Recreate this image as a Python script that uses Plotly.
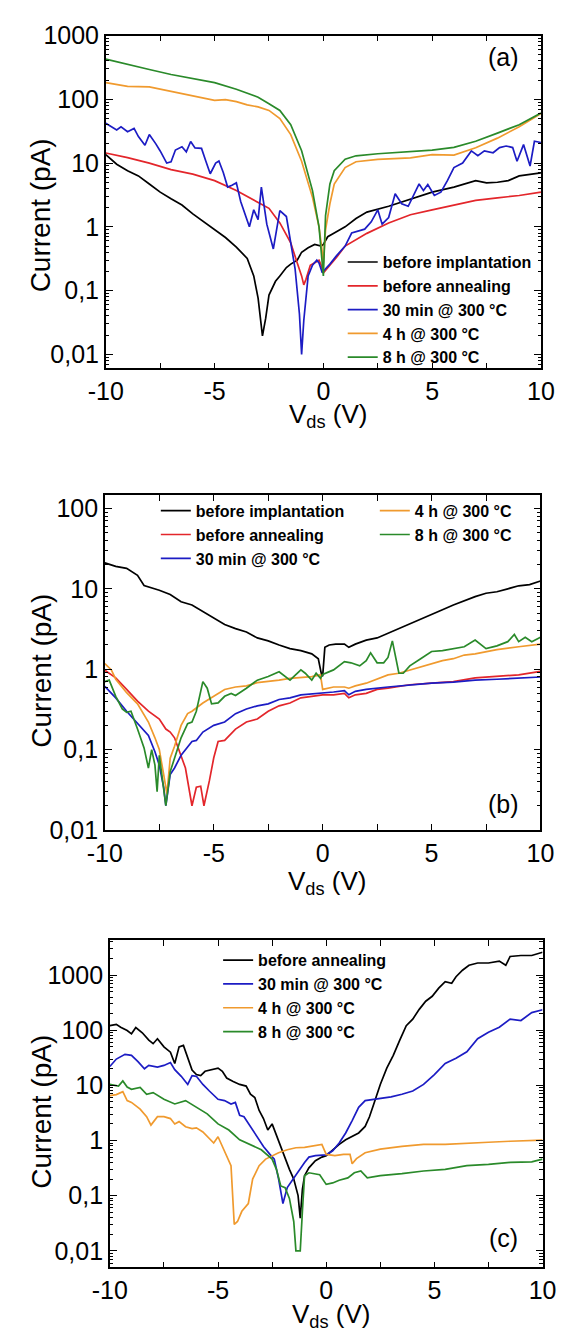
import plotly.graph_objects as go

# ---------------- Panel (a) ----------------
a_bi_x = [-10, -9.5, -9, -8.5, -8, -7.5, -7, -6.5, -6, -5.5, -5, -4.5, -4, -3.5, -3.2, -3.0, -2.8, -2.65, -2.5, -2.2, -2, -1.7, -1.5, -1.2, -1, -0.7, -0.4, -0.1, 0, 0.2, 0.5, 1, 1.5, 2, 3, 4, 5, 6, 7, 7.5, 8, 8.5, 9, 10]
a_bi_y = [13.6, 9.6, 7.6, 6.3, 4.7, 3.5, 2.75, 2.2, 1.6, 1.2, 0.91, 0.68, 0.48, 0.32, 0.17, 0.076, 0.0195, 0.037, 0.085, 0.14, 0.17, 0.23, 0.26, 0.3, 0.4, 0.47, 0.53, 0.5, 0.53, 0.7, 0.8, 1.0, 1.35, 1.7, 2.1, 2.75, 3.5, 4.2, 5.3, 4.9, 5.0, 5.3, 6.3, 7.0]

a_ba_x = [-10, -9, -8, -7, -6, -5, -4, -3, -2.5, -2, -1.5, -1.2, -1, -0.9, -0.8, -0.6, -0.4, -0.2, -0.1, 0, 0.3, 0.6, 1, 1.5, 2, 3, 4, 5, 6, 7, 8, 9, 10]
a_ba_y = [14.4, 12.2, 10, 7.9, 6.7, 5.3, 3.7, 2.45, 1.95, 1.15, 0.56, 0.27, 0.17, 0.123, 0.15, 0.25, 0.27, 0.3, 0.25, 0.19, 0.25, 0.33, 0.5, 0.63, 0.79, 1.15, 1.55, 1.85, 2.2, 2.6, 2.85, 3.1, 3.5]

a_30_x = [-10, -9.7, -9.5, -9.3, -9.0, -8.7, -8.5, -8.2, -8.0, -7.7, -7.5, -7.2, -7.0, -6.8, -6.5, -6.3, -6.1, -5.9, -5.6, -5.4, -5.2, -4.95, -4.8, -4.6, -4.4, -4.2, -4.0, -3.8, -3.6, -3.4, -3.2, -3.0, -2.85, -2.6, -2.3, -2.0, -1.7, -1.5, -1.3, -1.1, -1.0, -0.9, -0.7, -0.5, -0.3, -0.2, -0.05, 0.1, 0.3, 0.6, 1.0, 1.3, 1.6, 1.9, 2.2, 2.5, 2.7, 3.0, 3.3, 3.6, 3.9, 4.2, 4.4, 4.6, 4.8, 5.1, 5.4, 5.7, 6.0, 6.4, 6.8, 7.1, 7.4, 7.8, 8.1, 8.4, 8.7, 8.9, 9.2, 9.5, 9.7, 10]
a_30_y = [42, 37, 33, 37, 31, 35, 26, 19, 28, 20, 15.5, 10, 10.5, 16, 18, 15, 21.8, 17.3, 17, 10.7, 6.8, 10, 10.8, 7.1, 4.2, 4.5, 4.9, 2.5, 1.6, 1.0, 1.85, 1.3, 4.2, 1.1, 0.45, 1.8, 1.45, 0.56, 0.22, 0.043, 0.01, 0.034, 0.17, 0.25, 0.3, 0.27, 0.19, 0.22, 0.26, 0.35, 0.5, 0.8, 0.85, 0.92, 1.2, 1.85, 1.1, 1.4, 3.3, 2.3, 2.1, 3.5, 4.7, 3.7, 4.6, 3.1, 3.5, 5.3, 8.5, 10, 15.5, 13, 15.5, 14.5, 17.5, 18.5, 17.5, 10.7, 19.5, 9.0, 22, 21]

a_4h_x = [-10, -9, -8, -7, -6, -5, -4.5, -4, -3.5, -3, -2.5, -2, -1.5, -1, -0.5, -0.2, -0.05, 0, 0.1, 0.3, 0.5, 1, 1.5, 2.5, 4, 5, 6, 7, 8, 9, 10]
a_4h_y = [183, 159, 157, 133, 115, 96, 99, 92, 82, 76, 67, 50, 28, 10.7, 2.9, 1.0, 0.4, 0.27, 0.9, 2.3, 4.7, 8.5, 10.5, 11.4, 12.1, 13.6, 13.3, 17.4, 24.6, 37, 60]

a_8h_x = [-10, -9, -8, -7, -6, -5, -4, -3, -2.5, -2, -1.5, -1, -0.5, -0.2, 0, 0.1, 0.3, 0.5, 1, 1.5, 2.5, 5, 6, 7, 8, 9, 10]
a_8h_y = [427, 350, 293, 245, 211, 183, 144, 108, 85, 67, 40, 15.6, 3.7, 1.0, 0.17, 1.5, 4.7, 7.6, 11.5, 13, 14, 16, 17.6, 22, 29.5, 40, 61]

# ---------------- Panel (b) ----------------
b_bi_x = [-10, -9.5, -9, -8.5, -8.2, -8, -7.5, -7, -6.5, -6, -5.5, -5, -4.5, -4, -3.5, -3, -2.5, -2, -1.5, -1, -0.5, -0.2, -0.05, 0, 0.1, 0.3, 0.6, 1.0, 1.2, 1.5, 2, 2.5, 3, 3.5, 4, 4.5, 5, 5.5, 6, 6.5, 7, 7.5, 8, 8.5, 9, 9.5, 10]
b_bi_y = [21, 19, 18, 14.7, 11, 10.6, 9.6, 8.5, 6.9, 6.3, 5.2, 4.4, 3.6, 3.2, 2.9, 2.45, 2.25, 2.0, 1.8, 1.7, 1.55, 1.35, 0.85, 0.82, 1.87, 2.0, 2.05, 2.05, 1.87, 2.05, 2.3, 2.45, 2.8, 3.2, 3.6, 4.2, 4.8, 5.5, 6.3, 7.1, 8.0, 8.8, 9.2, 10, 10.9, 11.3, 12.5]

b_ba_x = [-10, -9.7, -9.5, -9, -8.5, -8, -7.5, -7.2, -7.0, -6.8, -6.5, -6.3, -6.0, -5.8, -5.6, -5.45, -5.2, -5.0, -4.8, -4.5, -4.0, -3.5, -3, -2.5, -2, -1.5, -1, -0.5, 0, 0.5, 1.0, 1.2, 1.5, 2, 2.5, 3, 4, 5, 6, 7, 8, 9, 10]
b_ba_y = [0.97, 0.85, 0.78, 0.56, 0.4, 0.3, 0.24, 0.18, 0.165, 0.14, 0.085, 0.059, 0.02, 0.034, 0.035, 0.02, 0.041, 0.079, 0.126, 0.13, 0.18, 0.22, 0.24, 0.3, 0.35, 0.38, 0.44, 0.46, 0.48, 0.48, 0.5, 0.44, 0.48, 0.5, 0.56, 0.58, 0.64, 0.67, 0.7, 0.78, 0.82, 0.85, 0.94]

b_30_x = [-10, -9.5, -9, -8.5, -8, -7.7, -7.5, -7.3, -7.2, -7.0, -6.8, -6.5, -6.0, -5.8, -5.5, -5, -4.5, -4, -3.5, -3, -2.5, -2, -1.5, -1, 0, 0.5, 1.0, 1.2, 1.5, 2, 3, 4, 5, 6, 7, 8, 9, 10]
b_30_y = [0.61, 0.44, 0.30, 0.21, 0.15, 0.094, 0.064, 0.034, 0.02, 0.049, 0.059, 0.085, 0.126, 0.13, 0.165, 0.2, 0.22, 0.28, 0.32, 0.35, 0.37, 0.42, 0.44, 0.48, 0.5, 0.52, 0.54, 0.48, 0.53, 0.56, 0.6, 0.64, 0.67, 0.69, 0.73, 0.75, 0.77, 0.8]

b_4h_x = [-10, -9.7, -9.5, -9, -8.5, -8, -7.7, -7.5, -7.3, -7.15, -7.0, -6.8, -6.5, -6.2, -6.0, -5.5, -5, -4.5, -4, -3.5, -3, -2.5, -2, -1.5, -1, -0.5, -0.1, 0, 0.5, 1.0, 1.2, 1.5, 2, 2.5, 3, 3.5, 4, 4.5, 5, 5.5, 6, 6.5, 7, 7.5, 8, 9, 10]
b_4h_y = [1.17, 0.98, 0.75, 0.51, 0.37, 0.22, 0.14, 0.1, 0.049, 0.028, 0.078, 0.11, 0.2, 0.28, 0.3, 0.38, 0.46, 0.56, 0.6, 0.62, 0.68, 0.7, 0.73, 0.77, 0.79, 0.81, 0.85, 0.56, 0.6, 0.6, 0.58, 0.62, 0.67, 0.75, 0.85, 0.89, 0.98, 1.07, 1.17, 1.28, 1.35, 1.5, 1.55, 1.65, 1.75, 1.9, 2.05]

b_8h_x = [-10, -9.8, -9.5, -9.2, -9, -8.8, -8.5, -8.2, -8.0, -7.85, -7.7, -7.6, -7.5, -7.2, -7.0, -6.7, -6.5, -6.2, -6.0, -5.8, -5.6, -5.5, -5.3, -5.1, -4.8, -4.5, -4.2, -4.0, -3.5, -3, -2.5, -2, -1.5, -1.0, -0.8, -0.5, -0.3, -0.1, 0, 0.5, 1.0, 1.3, 1.7, 2.0, 2.2, 2.5, 2.8, 3.0, 3.2, 3.5, 3.7, 4.0, 4.5, 5.0, 5.5, 6.0, 6.5, 7, 7.5, 8, 8.5, 8.8, 9.0, 9.3, 9.6, 10]
b_8h_y = [0.7, 0.73, 0.46, 0.32, 0.29, 0.3, 0.18, 0.105, 0.059, 0.1, 0.064, 0.03, 0.085, 0.02, 0.053, 0.094, 0.14, 0.21, 0.22, 0.3, 0.56, 0.7, 0.58, 0.37, 0.38, 0.46, 0.5, 0.47, 0.58, 0.73, 0.81, 0.93, 0.73, 0.98, 0.89, 0.73, 0.89, 0.77, 0.86, 0.98, 1.24, 1.2, 1.1, 1.28, 1.6, 1.2, 1.2, 1.4, 2.25, 0.89, 0.89, 1.1, 1.35, 1.66, 1.7, 1.8, 1.9, 2.3, 1.8, 1.95, 2.2, 2.7, 2.2, 2.5, 2.2, 2.5]

# ---------------- Panel (c) ----------------
c_ba_x = [-10, -9.7, -9.5, -9.2, -9.0, -8.8, -8.5, -8.2, -8.0, -7.8, -7.5, -7.2, -7.0, -6.8, -6.6, -6.4, -6.2, -6.0, -5.8, -5.6, -5.3, -5.0, -4.8, -4.6, -4.3, -4.0, -3.7, -3.5, -3.3, -3.1, -2.9, -2.7, -2.5, -2.3, -2.1, -1.9, -1.7, -1.5, -1.3, -1.2, -1.1, -1.0, -0.8, -0.5, -0.2, 0, 0.3, 0.6, 0.9, 1.2, 1.5, 1.8, 2.0, 2.2, 2.5, 2.8, 3.1, 3.4, 3.7, 4.0, 4.3, 4.6, 4.9, 5.2, 5.5, 5.8, 6.0, 6.3, 6.6, 7.0, 7.5, 8.0, 8.3, 8.5, 9.0, 9.5, 10]
c_ba_y = [121, 128, 113, 99, 86, 112, 90, 66, 57, 70, 50, 40, 25, 50, 53, 31, 19, 15.7, 15, 18, 19.3, 20.5, 18, 13.6, 11.8, 10.4, 9.7, 6.9, 6, 3.5, 2.5, 1.55, 2.0, 1.26, 0.78, 0.46, 0.3, 0.2, 0.1, 0.039, 0.13, 0.23, 0.32, 0.43, 0.5, 0.53, 0.68, 0.85, 1.03, 1.2, 1.37, 1.8, 2.7, 4.6, 10.4, 20.5, 35, 66, 121, 159, 239, 336, 413, 580, 762, 711, 935, 1226, 1505, 1657, 1657, 1797, 1505, 2175, 2265, 2265, 2595]

c_30_x = [-10, -9.7, -9.3, -9.0, -8.7, -8.4, -8.2, -7.8, -7.5, -7.2, -7.0, -6.7, -6.4, -6.2, -6.0, -5.7, -5.4, -5.0, -4.7, -4.4, -4.2, -4.0, -3.8, -3.5, -3.2, -2.9, -2.6, -2.4, -2.2, -2.0, -1.8, -1.5, -1.2, -1.0, -0.8, -0.5, 0, 0.3, 0.6, 0.9, 1.2, 1.5, 1.8, 2.2, 2.6, 3.0, 3.5, 4.0, 4.5, 5.0, 5.5, 6.0, 6.5, 7.0, 7.5, 8.0, 8.5, 9.0, 9.5, 10]
c_30_y = [22, 30, 36.5, 35, 27, 20, 23, 21.5, 23, 26, 19.3, 14.6, 10.4, 15, 14.6, 10.4, 7.9, 5.6, 5.3, 4.6, 4.9, 2.86, 2.7, 1.78, 1.17, 0.78, 0.56, 0.46, 0.2, 0.072, 0.14, 0.21, 0.3, 0.4, 0.5, 0.53, 0.55, 0.65, 0.9, 1.37, 2.3, 4.0, 5.3, 5.6, 6.0, 6.2, 6.9, 7.9, 10.4, 15.7, 25, 31, 40.6, 70, 92, 113, 159, 150, 209, 235]

c_4h_x = [-10, -9.7, -9.4, -9.2, -9.0, -8.6, -8.3, -8.1, -7.8, -7.5, -7.2, -7.0, -6.8, -6.5, -6.2, -6.0, -5.7, -5.4, -5.2, -5.0, -4.8, -4.6, -4.4, -4.25, -4.1, -3.9, -3.6, -3.4, -3.1, -2.8, -2.5, -2.2, -1.8, -1.4, -1.0, -0.6, -0.2, 0, 0.4, 0.8, 1.1, 1.2, 1.4, 1.8, 2.5, 3.5, 4.5, 5.5, 6.5, 7.5, 8.5, 10]
c_4h_y = [6.5, 6.8, 7.7, 5.3, 4.9, 3.7, 2.7, 1.9, 2.7, 2.7, 2.5, 2.0, 2.2, 1.78, 1.65, 1.7, 1.43, 1.1, 0.9, 1.17, 0.78, 0.49, 0.35, 0.03, 0.034, 0.052, 0.072, 0.2, 0.35, 0.46, 0.53, 0.6, 0.68, 0.74, 0.75, 0.79, 0.85, 0.56, 0.53, 0.56, 0.56, 0.38, 0.47, 0.6, 0.7, 0.78, 0.85, 0.85, 0.9, 0.93, 0.97, 1.02]

c_8h_x = [-10, -9.6, -9.4, -9.2, -9.0, -8.6, -8.3, -8.0, -7.5, -7.0, -6.5, -6.0, -5.5, -5.0, -4.5, -4.0, -3.5, -3.0, -2.5, -2.3, -2.1, -1.9, -1.7, -1.5, -1.4, -1.2, -1.1, -1.0, -0.8, -0.5, -0.3, 0, 0.3, 0.6, 1.0, 1.3, 1.6, 1.9, 2.5, 3.5, 4.5, 5.5, 6.5, 7.5, 8.5, 9.5, 10]
c_8h_y = [10.4, 9.7, 12, 9.3, 8.5, 9.2, 6.9, 7.4, 5.6, 4.6, 5.3, 4.0, 3.05, 2.0, 1.55, 1.03, 0.85, 0.68, 0.46, 0.3, 0.15, 0.14, 0.089, 0.034, 0.01, 0.01, 0.052, 0.23, 0.26, 0.25, 0.24, 0.16, 0.17, 0.19, 0.21, 0.26, 0.28, 0.21, 0.23, 0.25, 0.28, 0.3, 0.35, 0.37, 0.4, 0.41, 0.46]

# ---------------- Labels / ticks ----------------
y_tickvals_a = [0.01, 0.1, 1, 10, 100, 1000]
y_ticktext_a = ["0,01", "0,1", "1", "10", "100", "1000"]
y_tickvals_b = [0.01, 0.1, 1, 10, 100]
y_ticktext_b = ["0,01", "0,1", "1", "10", "100"]
y_tickvals_c = [0.01, 0.1, 1, 10, 100, 1000]
y_ticktext_c = ["0,01", "0,1", "1", "10", "100", "1000"]
x_tickvals = [-10, -5, 0, 5, 10]
x_ticktext = ["-10", "-5", "0", "5", "10"]
x_minorvals = [-7.5, -2.5, 2.5, 7.5]

N_BI = "before implantation"
N_BA = "before annealing"
N_30 = "30 min @ 300 °C"
N_4H = "4 h @ 300 °C"
N_8H = "8 h @ 300 °C"

C_BLACK = "#000000"
C_RED = "#e3262b"
C_BLUE = "#1c1cc4"
C_ORANGE = "#f09a2e"
C_GREEN = "#2a8a2a"

W, H = 571, 1344
FONT = "Liberation Sans, Arial, sans-serif"

# minor log ticks (2..9 in every decade)
y_minorvals = [m * 10.0 ** e for e in range(-3, 4) for m in range(2, 10)]

fig = go.Figure()

def add(x, y, name, color, xa, ya, legend):
    fig.add_trace(go.Scatter(x=x, y=y, name=name, mode="lines",
                             line=dict(color=color, width=1.7),
                             xaxis=xa, yaxis=ya, legend=legend))

# panel a
add(a_bi_x, a_bi_y, N_BI, C_BLACK, "x", "y", "legend")
add(a_ba_x, a_ba_y, N_BA, C_RED, "x", "y", "legend")
add(a_30_x, a_30_y, N_30, C_BLUE, "x", "y", "legend")
add(a_4h_x, a_4h_y, N_4H, C_ORANGE, "x", "y", "legend")
add(a_8h_x, a_8h_y, N_8H, C_GREEN, "x", "y", "legend")
# panel b
add(b_bi_x, b_bi_y, N_BI, C_BLACK, "x2", "y2", "legend2")
add(b_ba_x, b_ba_y, N_BA, C_RED, "x2", "y2", "legend2")
add(b_30_x, b_30_y, N_30, C_BLUE, "x2", "y2", "legend2")
add(b_4h_x, b_4h_y, N_4H, C_ORANGE, "x2", "y2", "legend3")
add(b_8h_x, b_8h_y, N_8H, C_GREEN, "x2", "y2", "legend3")
# panel c
add(c_ba_x, c_ba_y, N_BA, C_BLACK, "x3", "y3", "legend4")
add(c_30_x, c_30_y, N_30, C_BLUE, "x3", "y3", "legend4")
add(c_4h_x, c_4h_y, N_4H, C_ORANGE, "x3", "y3", "legend4")
add(c_8h_x, c_8h_y, N_8H, C_GREEN, "x3", "y3", "legend4")

def px_x(p):
    return p / W

def px_y(p):
    return 1 - p / H

tickfont = dict(family=FONT, size=25, color="black")

def xaxis(dom, anchor):
    return dict(domain=dom, anchor=anchor, range=[-10, 10],
                tickmode="array", tickvals=x_tickvals, ticktext=x_ticktext,
                ticks="inside", ticklen=6, tickwidth=1.2, tickcolor="black",
                minor=dict(ticks="inside", ticklen=6, tickwidth=1.2, tickcolor="black",
                           tickmode="array", tickvals=x_minorvals, showgrid=False),
                showline=True, linecolor="black", linewidth=1.5, mirror="ticks",
                showgrid=False, zeroline=False, tickfont=tickfont)

def yaxis(dom, anchor, rng, tv, tt):
    return dict(domain=dom, anchor=anchor, type="log", range=rng,
                tickmode="array", tickvals=tv, ticktext=tt,
                ticks="inside", ticklen=7, tickwidth=1.2, tickcolor="black",
                minor=dict(ticks="inside", ticklen=3.5, tickwidth=1, tickcolor="black",
                           tickmode="array", tickvals=y_minorvals, showgrid=False),
                showline=True, linecolor="black", linewidth=1.5, mirror="ticks",
                showgrid=False, zeroline=False, tickfont=tickfont)

legfont = dict(family=FONT, size=16, color="black", weight="bold")

def leg(x, y):
    return dict(x=x, y=y, xanchor="left", yanchor="top", bgcolor="rgba(0,0,0,0)",
                font=legfont, tracegroupgap=0, itemwidth=30, borderwidth=0)

fig.update_layout(
    width=W, height=H, margin=dict(l=0, r=0, t=0, b=0),
    paper_bgcolor="white", plot_bgcolor="white",
    showlegend=True,
    xaxis=xaxis([px_x(93), px_x(554)], "y"),
    yaxis=yaxis([px_y(362), px_y(22)], "x", [-2.221, 3], y_tickvals_a, y_ticktext_a),
    xaxis2=xaxis([px_x(92), px_x(553.5)], "y2"),
    yaxis2=yaxis([px_y(833.3), px_y(491)], "x2", [-2, 2.17], y_tickvals_b, y_ticktext_b),
    xaxis3=xaxis([px_x(97.3), px_x(555.7)], "y3"),
    yaxis3=yaxis([px_y(1280), px_y(945.5)], "x3", [-2.30, 3.64], y_tickvals_c, y_ticktext_c),
    legend=leg(px_x(344), px_y(236)),
    legend2=leg(px_x(146), px_y(490)),
    legend3=leg(px_x(378), px_y(490)),
    legend4=leg(px_x(212), px_y(949)),
)

annotations = []
# y titles
for yc in [(22 + 362) / 2 + 14, (491 + 833) / 2 + 9, (945 + 1280) / 2 + 9]:
    annotations.append(dict(text="Current (pA)", textangle=-90, x=px_x(24), y=px_y(yc),
                            xref="paper", yref="paper", showarrow=False,
                            font=dict(family=FONT, size=28, color="black"),
                            xanchor="center", yanchor="middle"))
# x titles
for xc, yc in [((93 + 554) / 2 + 5, 410), ((92 + 553) / 2 + 5, 887), ((97 + 556) / 2 + 5, 1329)]:
    annotations.append(dict(text="V<sub>ds</sub> (V)", x=px_x(xc), y=px_y(yc),
                            xref="paper", yref="paper", showarrow=False,
                            font=dict(family=FONT, size=26, color="black"),
                            xanchor="center", yanchor="middle"))
# panel labels
for lab, yc in [("(a)", 44), ("(b)", 807), ("(c)", 1250)]:
    annotations.append(dict(text=lab, x=px_x(514), y=px_y(yc), xref="paper", yref="paper",
                            showarrow=False, font=dict(family=FONT, size=25, color="black"),
                            xanchor="center", yanchor="middle"))
fig.update_layout(annotations=annotations)

fig.write_html("out.html")
